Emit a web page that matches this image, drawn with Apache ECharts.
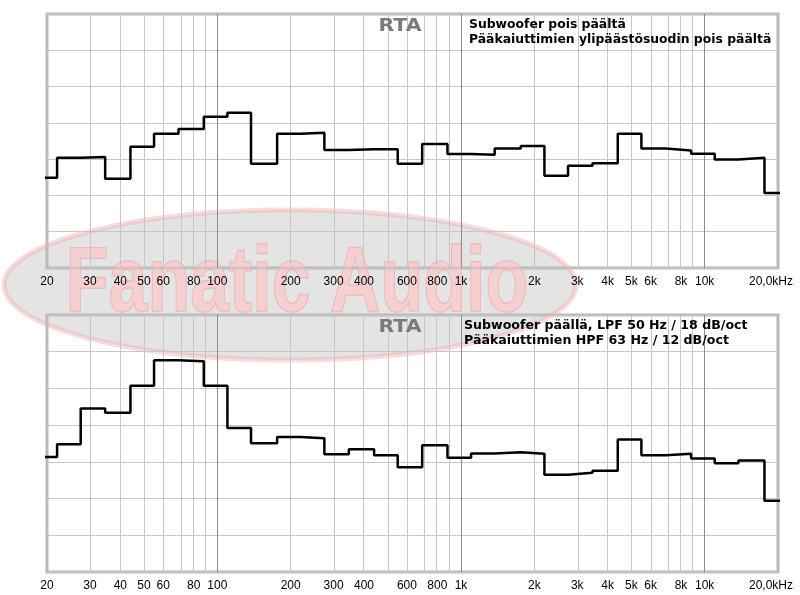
<!DOCTYPE html>
<html><head><meta charset="utf-8">
<script src="https://cdn.jsdelivr.net/npm/echarts@6/dist/echarts.min.js"></script>
<style>html,body{margin:0;padding:0;background:#fff}#c{width:800px;height:595px}</style>
</head><body><div id="c"></div>
<script>
// 1/3-octave band centre frequencies (Hz)
const bandCenters = [20,25,31.5,40,50,63,80,100,125,160,200,250,315,400,500,630,800,1000,1250,1600,2000,2500,3150,4000,5000,6300,8000,10000,12500,16000,20000];
// band levels (dB, arbitrary reference; 7 grid divisions of 10)
const levelsSubOff = [24.9,30.4,30.6,24.6,33.4,37.0,38.3,41.7,42.8,28.7,37.0,37.3,32.5,32.7,32.7,28.7,34.2,31.4,31.2,32.9,33.6,25.4,28.2,28.9,37.0,32.9,32.4,31.5,29.9,30.4,20.7];
const levelsSubOn  = [31.3,34.8,44.5,43.4,50.7,57.7,57.4,50.7,39.2,35.1,36.8,36.4,32.1,33.4,31.8,28.5,34.5,31.1,32.3,32.6,32.2,26.5,27.0,27.6,36.1,31.8,32.2,30.9,29.6,30.4,19.4];
// x axis grid and labels
const gridFreqs = [30,40,50,60,70,80,90,100,200,300,400,500,600,700,800,900,1000,2000,3000,4000,5000,6000,7000,8000,9000,10000];
const decadeFreqs = [100,1000,10000];
const labelFreqs = [20,30,40,50,60,80,100,200,300,400,600,800,1000,2000,3000,4000,5000,6000,8000,10000,20000];
const labelTexts = ['20','30','40','50','60','80','100','200','300','400','600','800','1k','2k','3k','4k','5k','6k','8k','10k','20,0kHz'];
const titleText = 'RTA';
const legendOff = ['Subwoofer pois päältä','Pääkaiuttimien ylipäästösuodin pois päältä'];
const legendOn = ['Subwoofer päällä, LPF 50 Hz / 18 dB/oct','Pääkaiuttimien HPF 63 Hz / 12 dB/oct'];
const watermark = 'Fanatic Audio';

const lg = Math.log10;
function stepData(levels){
  const pts = [];
  for (let i=0;i<levels.length;i++){
    const lower = i===0 ? bandCenters[0]/1.25*1.1 : bandCenters[i-1]*1.1;
    pts.push([lg(lower), levels[i]]);
  }
  const last = levels.length-1;
  pts.push([lg(bandCenters[last]*1.1), levels[last]]);
  return pts;
}
function labelFor(v){
  for (let i=0;i<labelFreqs.length;i++) if (Math.abs(lg(labelFreqs[i])-v)<1e-6) return labelTexts[i]==='20,0kHz' ? '{r|20,0kHz}' : labelTexts[i];
  return '';
}
const gridMarks = gridFreqs.map(f => ({xAxis: lg(f), lineStyle: decadeFreqs.includes(f) ? {color:'#8c8c8c', width:1, type:'solid'} : {color:'#c6c6c6', width:1, type:'solid'}}));

function xAxisFor(gi){
  return {
    type:'value', gridIndex:gi, min:lg(20), max:lg(20000),
    axisLine:{show:false}, axisTick:{show:false}, splitLine:{show:false},
    axisLabel:{
      customValues: labelFreqs.map(lg), formatter: labelFor, margin:8,
      color:'#000', fontFamily:'Liberation Sans', fontSize:12,
      rich:{r:{padding:[0,14,0,0], color:'#000', fontFamily:'Liberation Sans', fontSize:12}}
    }
  };
}
function yAxisFor(gi){
  return {
    type:'value', gridIndex:gi, min:0, max:70, interval:10,
    axisLine:{show:false}, axisTick:{show:false}, axisLabel:{show:false},
    splitLine:{show:true, lineStyle:{color:'#c6c6c6', width:1, type:'solid'}}
  };
}
function seriesFor(gi, levels){
  return {
    type:'line', xAxisIndex:gi, yAxisIndex:gi, step:'end', data:stepData(levels),
    showSymbol:false, symbol:'none', z:10, clip:true, silent:true,
    lineStyle:{color:'#000', width:2.5},
    markLine:{silent:true, symbol:'none', z:3, label:{show:false}, animation:false,
      lineStyle:{type:'solid', color:'#c6c6c6', width:1}, data:gridMarks}
  };
}
function texts(top, lines, lx, fs){
  return [
    {type:'text', x:400, y:top+13, z:20, scaleX:1.2, style:{text:titleText, font:'bold 17px "DejaVu Sans"', fill:'#7a7a7a', align:'center', verticalAlign:'middle'}},
    {type:'text', x:lx, y:top+11, z:20, style:{text:lines[0], font:'bold '+fs+'px "DejaVu Sans"', fill:'#000', verticalAlign:'middle'}},
    {type:'text', x:lx, y:top+26, z:20, style:{text:lines[1], font:'bold '+fs+'px "DejaVu Sans"', fill:'#000', verticalAlign:'middle'}}
  ];
}

const chart = echarts.init(document.getElementById('c'), null, {renderer:'canvas'});
chart.setOption({
  backgroundColor:'#fff',
  animation:false,
  grid:[
    {left:47, right:22, top:14, height:254, show:true, backgroundColor:'#fff', borderColor:'#bababa', borderWidth:3},
    {left:47, right:22, top:315, height:257, show:true, backgroundColor:'#fff', borderColor:'#bababa', borderWidth:3}
  ],
  xAxis:[xAxisFor(0), xAxisFor(1)],
  yAxis:[yAxisFor(0), yAxisFor(1)],
  series:[seriesFor(0, levelsSubOff), seriesFor(1, levelsSubOn)],
  graphic:[].concat(texts(14, legendOff, 469, 12.4), texts(315, legendOn, 464, 12.6), [
    {type:'group', z:100, silent:true, children:[
      {type:'ellipse', shape:{cx:290, cy:285, rx:286, ry:75}, style:{fill:'rgba(185,185,185,0.38)', stroke:'rgba(245,175,175,0.45)', lineWidth:5}},
      {type:'text', x:297, y:286, scaleX:0.76, style:{text:watermark, font:'bold 92px "Liberation Sans"', fill:'rgba(255,195,195,0.6)', stroke:'rgba(235,150,150,0.55)', lineWidth:1.5, align:'center', verticalAlign:'middle'}}
    ]}
  ])
});
</script></body></html>
